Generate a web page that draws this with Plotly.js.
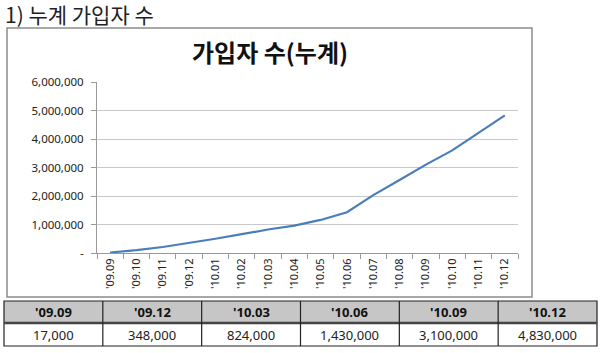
<!DOCTYPE html>
<html>
<head>
<meta charset="utf-8">
<script src="https://cdn.plot.ly/plotly-3.0.1.min.js"></script>
<style>html,body{margin:0;padding:0;background:#fff;}#chart{width:600px;height:353px;}</style>
</head>
<body>
<div id="chart"></div>
<script>
// Monthly cumulative subscribers
const months = ["'09.09","'09.10","'09.11","'09.12","'10.01","'10.02","'10.03","'10.04","'10.05","'10.06","'10.07","'10.08","'10.09","'10.10","'10.11","'10.12"];
const subscribers = [17000, 100000, 210000, 348000, 500000, 660000, 824000, 960000, 1160000, 1430000, 2030000, 2560000, 3100000, 3600000, 4230000, 4830000];
// Y axis ticks
const yTickVals = [0, 1000000, 2000000, 3000000, 4000000, 5000000, 6000000];
const yTickText = ["-", "1,000,000", "2,000,000", "3,000,000", "4,000,000", "5,000,000", "6,000,000"];
// Summary table
const tableQuarters = ["'09.09","'09.12","'10.03","'10.06","'10.09","'10.12"];
const tableValues = ["17,000","348,000","824,000","1,430,000","3,100,000","4,830,000"];

const H = 353, W = 600;
const py = v => 1 - v / H;
const px = v => v / W;
const kfont = "'Malgun Gothic','Noto Sans CJK KR','Noto Sans',sans-serif";
const nfont = "'Noto Sans',sans-serif";

const traces = [
  {
    type: 'scatter', mode: 'lines', x: months, y: subscribers,
    line: {color: '#4a7ebb', width: 2.2},
    hoverinfo: 'skip', showlegend: false
  }
];

// Table geometry (pixels)
const tL = 4, tR = 597, tTop = 301, tMid = 323, tBot = 346;
const colW = (tR - tL) / tableQuarters.length;

const shapes = [
  {type: 'rect', xref: 'paper', yref: 'paper',
   x0: px(7), x1: px(532), y0: py(297), y1: py(28),
   line: {color: '#8c8c8c', width: 1.5}, fillcolor: 'rgba(0,0,0,0)', layer: 'below'},
  {type: 'rect', xref: 'paper', yref: 'paper',
   x0: px(tL), x1: px(tR), y0: py(tMid), y1: py(tTop),
   line: {width: 0}, fillcolor: '#c6c6c6', layer: 'below'},
  {type: 'rect', xref: 'paper', yref: 'paper',
   x0: px(tL), x1: px(tR), y0: py(tBot), y1: py(tTop),
   line: {color: '#222', width: 1.2}, fillcolor: 'rgba(0,0,0,0)'},
  {type: 'line', xref: 'paper', yref: 'paper',
   x0: px(tL), x1: px(tR), y0: py(tMid), y1: py(tMid),
   line: {color: '#444', width: 2.5}}
];
const annotations = [
  {text: '1) 누계 가입자 수', xref: 'paper', yref: 'paper', x: px(3), y: py(14),
   xanchor: 'left', yanchor: 'middle', showarrow: false,
   font: {family: kfont, size: 21, color: '#222'}},
  {text: '<b>가입자 수(누계)</b>', xref: 'paper', yref: 'paper', x: px(270), y: py(52),
   xanchor: 'center', yanchor: 'middle', showarrow: false,
   font: {family: kfont, size: 24, color: '#111'}}
];
tableQuarters.forEach((q, i) => {
  const x0 = tL + i * colW;
  if (i > 0) {
    shapes.push({type: 'line', xref: 'paper', yref: 'paper',
      x0: px(x0), x1: px(x0), y0: py(tBot), y1: py(tTop),
      line: {color: '#222', width: 1.2}});
  }
  annotations.push({text: '<b>' + q + '</b>', xref: 'paper', yref: 'paper',
    x: px(x0 + colW / 2), y: py((tTop + tMid) / 2), xanchor: 'center', yanchor: 'middle',
    showarrow: false, font: {family: nfont, size: 13, color: '#111'}});
  annotations.push({text: tableValues[i], xref: 'paper', yref: 'paper',
    x: px(x0 + colW / 2), y: py((tMid + tBot) / 2 + 0.5), xanchor: 'center', yanchor: 'middle',
    showarrow: false, font: {family: nfont, size: 13, color: '#222'}});
});

const layout = {
  width: W, height: H,
  margin: {l: 0, r: 0, t: 0, b: 0},
  paper_bgcolor: '#fff', plot_bgcolor: '#fff',
  showlegend: false,
  xaxis: {
    domain: [px(97), px(518)],
    type: 'category',
    range: [-0.5, months.length - 0.5],
    tickangle: -90,
    ticks: 'outside', ticklen: 5, tickcolor: '#999', tickson: 'boundaries',
    showline: true, linecolor: '#999', linewidth: 1,
    showgrid: false, zeroline: false,
    tickfont: {family: nfont, size: 11, color: '#222'},
    fixedrange: true
  },
  yaxis: {
    domain: [py(253), py(82)],
    range: [0, 6000000],
    tickvals: yTickVals, ticktext: yTickText,
    ticks: 'outside', ticklen: 5, tickcolor: '#999',
    ticklabelstandoff: 5,
    showline: true, linecolor: '#999', linewidth: 1,
    showgrid: true, gridcolor: '#c8c8c8', gridwidth: 1,
    zeroline: false,
    tickfont: {family: nfont, size: 11.5, color: '#222'},
    fixedrange: true
  },
  shapes: shapes,
  annotations: annotations
};

Plotly.newPlot('chart', traces, layout, {displayModeBar: false, staticPlot: true});
</script>
</body>
</html>
